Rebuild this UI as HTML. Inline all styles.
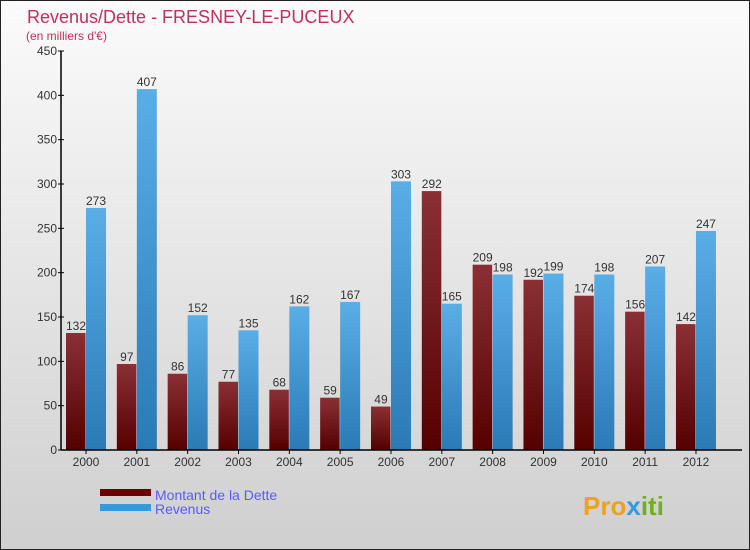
<!DOCTYPE html>
<html><head><meta charset="utf-8"><style>
html,body{margin:0;padding:0;width:750px;height:550px;overflow:hidden}
svg{display:block;font-family:"Liberation Sans",sans-serif}
</style></head><body>
<svg id="c" width="750" height="550" xmlns="http://www.w3.org/2000/svg">
<defs>
<linearGradient id="bg" x1="0" y1="0" x2="0" y2="1"><stop offset="0" stop-color="#fbfbfb"/><stop offset="1" stop-color="#cfcfcf"/></linearGradient>
<linearGradient id="gd" x1="0" y1="0" x2="0" y2="1"><stop offset="0" stop-color="#8a3035"/><stop offset="1" stop-color="#550000"/></linearGradient>
<linearGradient id="gr" x1="0" y1="0" x2="0" y2="1"><stop offset="0" stop-color="#5aaee6"/><stop offset="1" stop-color="#2a7ab5"/></linearGradient>
</defs>
<rect x="0.5" y="0.5" width="749" height="549" fill="url(#bg)" stroke="#222"/>
<text x="27" y="23" font-size="18" fill="#c0305a">Revenus/Dette - FRESNEY-LE-PUCEUX</text>
<text x="26" y="40" font-size="12" fill="#c0305a">(en milliers d'€)</text>
<g id="plot"></g>
<g>
<rect x="100" y="489" width="51" height="7" fill="#6b0000"/>
<text x="155" y="500" font-size="14" fill="#5a5aff">Montant de la Dette</text>
<rect x="100" y="504" width="51" height="7" fill="#3399e0"/>
<text x="155" y="514" font-size="14" fill="#5a5aff">Revenus</text>
</g>
<text x="583" y="515" font-size="26" font-weight="bold" fill="#f0a020">Pro<tspan fill="#3399e0">x</tspan><tspan fill="#70b020">iti</tspan></text>
</svg>
<script>
const categories=["2000","2001","2002","2003","2004","2005","2006","2007","2008","2009","2010","2011","2012"];
const dette=[132,97,86,77,68,59,49,292,209,192,174,156,142];
const revenus=[273,407,152,135,162,167,303,165,198,199,198,207,247];
const yTicks=[0,50,100,150,200,250,300,350,400,450];
const NS="http://www.w3.org/2000/svg";
const g=document.getElementById('plot');
const x0=61,y0=450,yTop=51,yMax=450,step=50.83,c0=86;
const y=v=>y0-(v/yMax)*(y0-yTop);
const xc=i=>c0+i*step;
function mk(t,a){const e=document.createElementNS(NS,t);for(const k in a)e.setAttribute(k,a[k]);g.appendChild(e);return e;}
yTicks.forEach(v=>{
 const l=mk('line',{x1:x0-3,x2:x0+3,y1:y(v),y2:y(v),stroke:'#000'});
 
 
 const t=mk('text',{x:x0-4,y:y(v)+4,'font-size':12,fill:'#333','text-anchor':'end'});t.textContent=v;
 
 
});
categories.forEach((c,i)=>{
 const cx=xc(i);
 const bd=mk('rect',{x:cx-20,y:y(dette[i]),width:19.5,height:y0-y(dette[i]),fill:'url(#gd)'});
 
 
 const br=mk('rect',{x:cx,y:y(revenus[i]),width:20,height:y0-y(revenus[i]),fill:'url(#gr)'});
 
 
 const td=mk('text',{x:cx-10,y:y(dette[i])-3,'font-size':12,fill:'#333','text-anchor':'middle'});td.textContent=dette[i];
 
 
 const tr=mk('text',{x:cx+10,y:y(revenus[i])-3,'font-size':12,fill:'#333','text-anchor':'middle'});tr.textContent=revenus[i];
 
 
 const tk=mk('line',{x1:cx,x2:cx,y1:y0,y2:y0+4,stroke:'#000'});
 
 
 const tl=mk('text',{x:cx,y:y0+16,'font-size':12,fill:'#333','text-anchor':'middle'});tl.textContent=c;
 
 
});
const ya=mk('line',{x1:x0,x2:x0,y1:yTop,y2:y0,stroke:'#000','stroke-width':1.5});


const xa=mk('line',{x1:x0,x2:742,y1:y0,y2:y0,stroke:'#000','stroke-width':1.5});


</script>
</body></html>
